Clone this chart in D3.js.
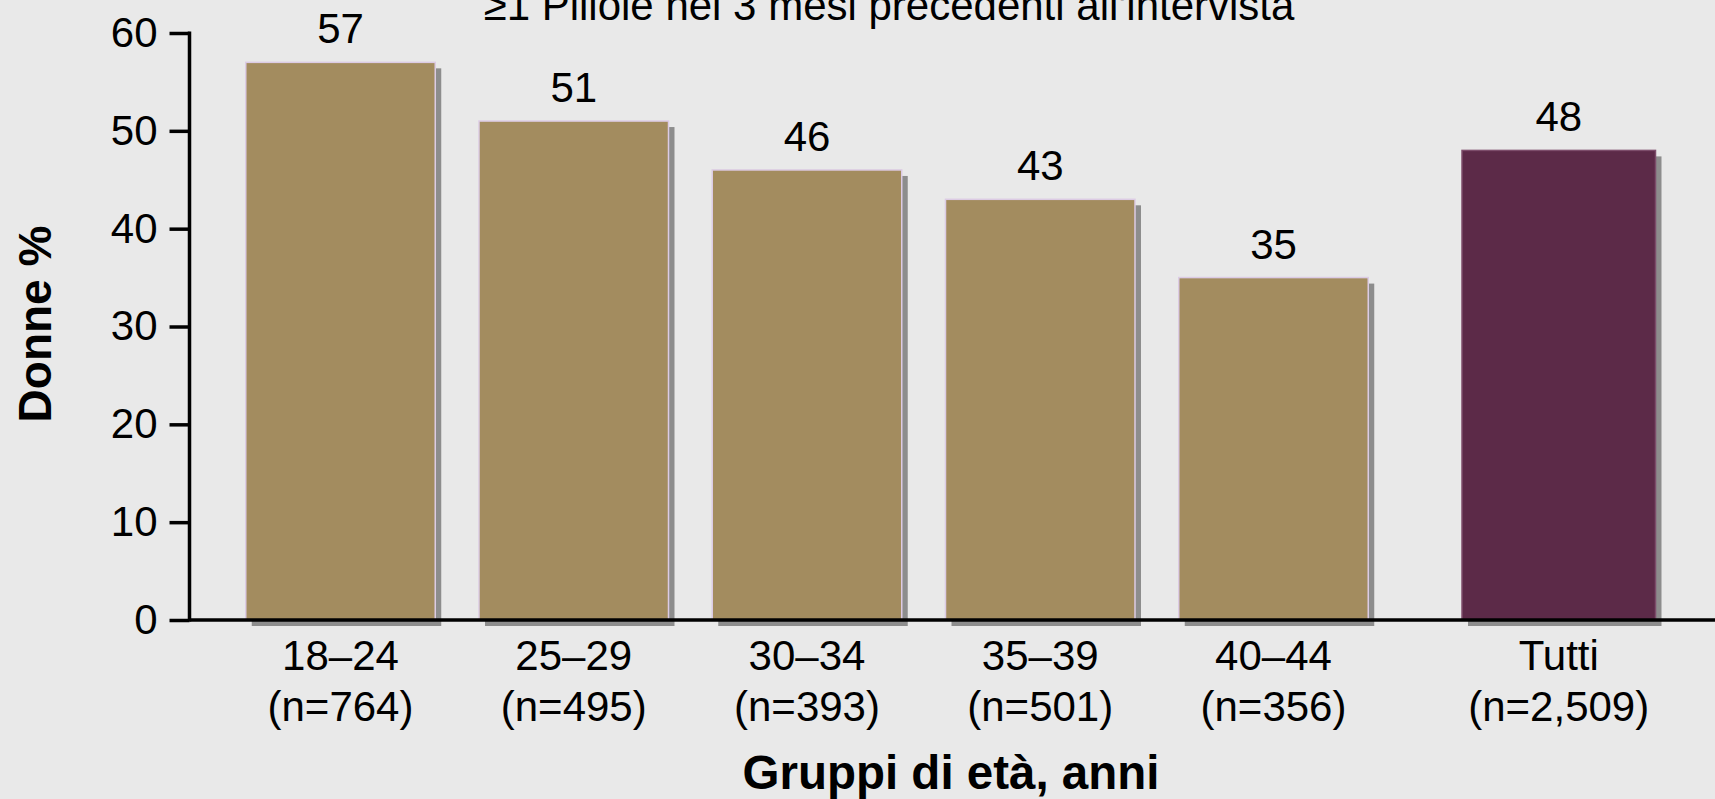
<!DOCTYPE html>
<html>
<head>
<meta charset="utf-8">
<script src="https://cdn.jsdelivr.net/npm/d3@7"></script>
<style>
  html, body { margin: 0; padding: 0; background: #e9e9e9; overflow: hidden; }
  svg { display: block; font-family: "Liberation Sans", Arial, Helvetica, sans-serif; }
</style>
</head>
<body>
<svg id="chart" width="1715" height="799"></svg>
<script>
// Share of women using ≥1 pill in the previous 3 months, by age group
const categories = ["18–24", "25–29", "30–34", "35–39", "40–44", "Tutti"];
const sampleSizes = ["(n=764)", "(n=495)", "(n=393)", "(n=501)", "(n=356)", "(n=2,509)"];
const values = [57, 51, 46, 43, 35, 48];
const yTicks = [0, 10, 20, 30, 40, 50, 60];
const titleText = "≥1 Pillole nei 3 mesi precedenti all'intervista";
const yTitle = "Donne %";
const xTitle = "Gruppi di età, anni";

const W = 1715, H = 799;
const axisX = 189.5, baseY = 620, topY = 33;
const totalGap = 50; // extra space separating the overall bar from the age groups

const svg = d3.select("#chart");
svg.append("rect").attr("width", W).attr("height", H).attr("fill", "#e9e9e9");

const y = d3.scaleLinear().domain([0, 60]).range([baseY, topY]);

const step = 233.25, pad = 0.1876, x0 = 245.75;
const x = d3.scaleBand()
  .domain(categories)
  .range([x0, x0 + step * (categories.length - pad)])
  .paddingInner(pad)
  .paddingOuter(0);

const isTotal = c => c === "Tutti";
const xPos = c => x(c) + (isTotal(c) ? totalGap : 0);
const bw = c => x.bandwidth() + (isTotal(c) ? 4 : 0);
const barColor = c => (isTotal(c) ? "#5c2a48" : "#a38c5f");
const data = categories.map((c, i) => ({ c, v: values[i], n: sampleSizes[i] }));

// title (partly clipped by the top edge)
svg.append("text")
  .attr("x", 889).attr("y", 20)
  .attr("text-anchor", "middle")
  .attr("font-size", 42)
  .attr("fill", "#000")
  .text(titleText);

// drop shadows
svg.append("g").selectAll("rect").data(data).join("rect")
  .attr("x", d => xPos(d.c) + 6)
  .attr("y", d => y(d.v) + 6)
  .attr("width", d => bw(d.c))
  .attr("height", d => baseY - y(d.v))
  .attr("fill", "#8d8d8d");

// bars
svg.append("g").selectAll("rect").data(data).join("rect")
  .attr("x", d => xPos(d.c))
  .attr("y", d => y(d.v))
  .attr("width", d => bw(d.c))
  .attr("height", d => baseY - y(d.v))
  .attr("fill", d => barColor(d.c))
  .attr("stroke", d => (isTotal(d.c) ? "#7d4d6b" : "#dccbe4"))
  .attr("stroke-width", 1.5);

// value labels
svg.append("g").selectAll("text").data(data).join("text")
  .attr("x", d => xPos(d.c) + bw(d.c) / 2)
  .attr("y", d => y(d.v) - 19)
  .attr("text-anchor", "middle")
  .attr("font-size", 42)
  .attr("fill", "#000")
  .text(d => d.v);

// x baseline, running to the right edge
svg.append("line")
  .attr("x1", axisX).attr("x2", W)
  .attr("y1", baseY).attr("y2", baseY)
  .attr("stroke", "#000").attr("stroke-width", 3.5);

// y axis
const yAxis = d3.axisLeft(y).tickValues(yTicks).tickSize(20).tickPadding(12);
const gy = svg.append("g").attr("transform", `translate(${axisX},0)`).call(yAxis);
gy.select(".domain").attr("d", `M0,${topY - 1.5}V${baseY + 1.5}`).attr("stroke", "#000").attr("stroke-width", 3.5);
gy.selectAll(".tick line").attr("stroke", "#000").attr("stroke-width", 3.5);
gy.selectAll(".tick text").attr("font-size", 42).attr("fill", "#000")
  .attr("font-family", "'Liberation Sans', Arial, sans-serif");

// category labels (two lines)
const cat = svg.append("g").selectAll("text").data(data).join("text")
  .attr("text-anchor", "middle")
  .attr("font-size", 42)
  .attr("fill", "#000");
cat.append("tspan")
  .attr("x", d => xPos(d.c) + bw(d.c) / 2).attr("y", 670)
  .text(d => d.c);
cat.append("tspan")
  .attr("x", d => xPos(d.c) + bw(d.c) / 2).attr("y", 721)
  .text(d => d.n);

// axis titles
svg.append("text")
  .attr("x", 951).attr("y", 789)
  .attr("text-anchor", "middle")
  .attr("font-size", 47.5).attr("font-weight", "bold")
  .attr("fill", "#000")
  .text(xTitle);

svg.append("text")
  .attr("transform", "translate(51,324) rotate(-90)")
  .attr("text-anchor", "middle")
  .attr("font-size", 46).attr("font-weight", "bold")
  .attr("fill", "#000")
  .text(yTitle);
</script>
</body>
</html>
